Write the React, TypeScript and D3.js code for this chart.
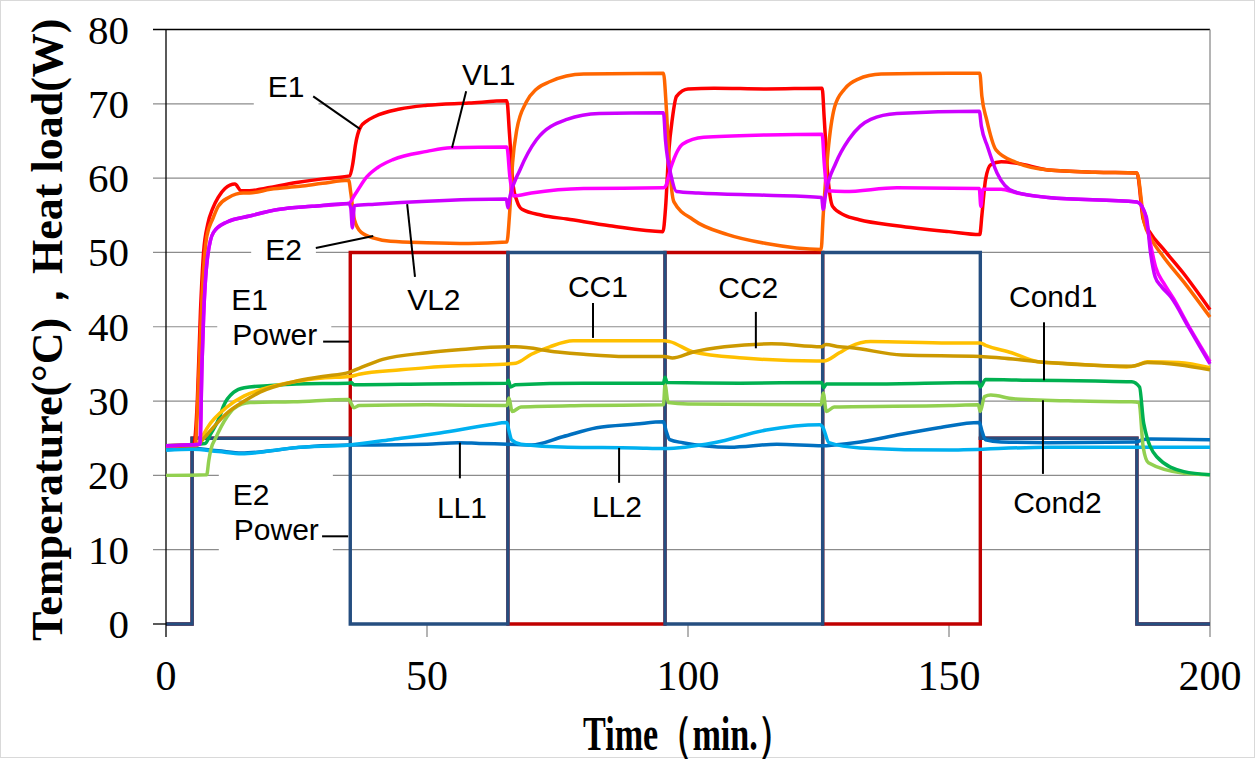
import React, { useRef, useEffect } from "react";
import * as d3 from "d3";

type Pt = [number, number];

// [time (min), value] pairs
const e1Power: Pt[] = [[0, 0], [5, 0], [5, 25], [35.3, 25], [35.3, 50], [65.5, 50], [65.5, 0], [95.6, 0], [95.6, 50], [125.8, 50], [125.8, 0], [156, 0], [156, 25], [186, 25], [186, 0], [200, 0]];
const e2Power: Pt[] = [[0, 0], [5, 0], [5, 25], [35.3, 25], [35.3, 0], [65.5, 0], [65.5, 50], [95.6, 50], [95.6, 0], [125.8, 0], [125.8, 50], [156, 50], [156, 25], [186, 25], [186, 0], [200, 0]];

const e1Temp: Pt[] = [[0, 24], [5.3, 24.1], [6, 30], [6.6, 42], [7.2, 50], [8, 53.8], [9, 56], [10, 57.4], [11.3, 58.6], [13.2, 59.2], [14.4, 58.3], [16, 58.3], [18, 58.5], [25, 59.4], [30, 59.9], [35.2, 60.3], [35.8, 62], [36.3, 64.5], [37.2, 66.8], [38.5, 67.7], [40, 68.3], [44.8, 69.3], [50, 69.8], [58, 70.1], [65.3, 70.4], [65.8, 66], [66.5, 59], [67.2, 57], [68.2, 55.8], [72, 55], [76.8, 54.5], [85, 53.6], [95.2, 52.8], [95.7, 56], [96.3, 63.4], [97, 68], [97.8, 71], [100, 72], [105, 72.1], [115, 72], [125.7, 72.1], [126.1, 68], [126.7, 61.1], [127.7, 56.2], [130, 55], [132.8, 54.4], [140, 53.6], [150, 52.8], [155.9, 52.4], [156.3, 55], [157, 59.8], [158, 61.8], [160, 62.2], [163, 62], [169, 61.1], [178, 60.8], [186, 60.7], [187.2, 54.5], [188.5, 52.7], [191, 50.5], [194.8, 47.3], [200, 42.3]];
const e2Temp: Pt[] = [[0, 24], [5.6, 24.1], [6.2, 32], [6.9, 44], [7.8, 52.1], [9, 54.6], [10, 56.2], [12, 57.4], [14.8, 58], [16, 58], [20, 58.5], [25.7, 58.9], [30, 59.3], [35, 59.7], [35.4, 58], [36.1, 54.4], [37.4, 52.7], [40, 51.9], [43, 51.5], [50, 51.3], [58, 51.2], [65.3, 51.4], [65.8, 55], [66.4, 62.1], [67.2, 66.5], [69, 70.2], [71, 72], [73.6, 73], [80, 74], [95.3, 74.1], [95.8, 70], [96.3, 63.4], [97.3, 56.8], [101, 54.4], [107.6, 52.4], [115, 51.2], [125.5, 50.4], [125.9, 55], [126.8, 63.4], [128.1, 69.6], [130, 72], [132.5, 73.3], [137, 74], [150, 74.1], [155.9, 74.1], [156.3, 71], [157.2, 67.9], [159, 63.8], [162.9, 62.1], [169, 61.1], [178, 60.8], [186, 60.7], [187.4, 54], [188.6, 52], [191, 49.5], [195, 46], [200, 41.3]];
const vl1Temp: Pt[] = [[0, 24], [6.5, 24.2], [6.9, 35], [7.2, 41.3], [7.9, 49], [9.1, 52.7], [11.7, 54.1], [16, 54.9], [21.8, 55.8], [28, 56.2], [35, 56.6], [36.2, 57.8], [38.5, 60.2], [40.5, 61.4], [43.5, 62.5], [50, 63.6], [54.5, 64.1], [65.3, 64.2], [65.9, 60], [66.6, 57.6], [70, 58], [80, 58.6], [95.3, 58.7], [95.7, 58.9], [96.8, 61.6], [99, 64.6], [103, 65.5], [115, 65.8], [125.7, 65.9], [126.1, 62], [126.7, 58.3], [130, 58.2], [140, 58.7], [155.8, 58.6], [156.1, 56.2], [156.5, 58.5], [160, 58.5], [163, 58], [169, 57.4], [186, 56.8], [187.5, 55.3], [188.5, 51.5], [189.6, 48], [191.2, 45.8], [193, 43.8], [196, 40], [200, 35.3]];
const vl2Temp: Pt[] = [[0, 24], [6.5, 24.2], [6.9, 35], [7.2, 41.3], [7.9, 49], [9.1, 52.7], [11.7, 54.1], [16, 54.9], [21.8, 55.8], [28, 56.2], [35, 56.6], [35.4, 56], [35.7, 53.3], [36.1, 56.3], [40, 56.5], [50, 56.9], [65.2, 57.2], [65.5, 56], [65.9, 57.5], [67.8, 61.1], [71, 65.2], [76.8, 67.9], [83, 68.7], [95.3, 68.8], [95.7, 65], [96.8, 60.2], [97.8, 58.2], [102, 58], [115, 57.7], [125.6, 57.4], [125.9, 55.8], [126.4, 58], [128.3, 62], [130.8, 65.2], [133, 67], [135, 67.9], [140, 68.7], [155.8, 69], [156.2, 67], [157.4, 64.2], [159.2, 60.7], [162.4, 58.2], [169, 57.4], [186, 56.8], [187.8, 54.8], [188.6, 50], [189.5, 46.7], [190.7, 45.4], [192.5, 44], [196, 39.8], [200, 35]];
const cc1Temp: Pt[] = [[0, 24], [5.8, 24.1], [7, 25.3], [8, 26.5], [11.7, 29.2], [15, 30.7], [18, 31.5], [24.5, 32.6], [30, 33.1], [35.2, 33.3], [37, 33.6], [45, 34.2], [50, 34.5], [58, 34.8], [65.5, 35], [67, 35.1], [70, 36.3], [73.5, 37.3], [78, 38.1], [85, 38.1], [95.5, 38.1], [96.5, 38], [101, 36.6], [110.6, 35.8], [124.6, 35.4], [126, 35.4], [129, 36.5], [131, 37.3], [135, 38], [150, 37.8], [156, 37.8], [157, 37.5], [162, 36.5], [167, 35.3], [174, 35], [184, 34.6], [186, 34.8], [188, 35.3], [194, 35.2], [200, 34.5]];
const cc2Temp: Pt[] = [[0, 24], [5.8, 24], [7, 24.8], [8, 25.6], [11.7, 28.4], [15, 30], [18, 31.2], [24.5, 32.6], [30, 33.3], [35.2, 33.9], [37, 34.4], [41.5, 35.6], [50, 36.5], [56, 36.9], [65.5, 37.3], [67, 37.3], [75, 36.6], [80, 36.3], [88, 36], [95.5, 36], [97, 35.8], [101, 36.6], [107, 37.3], [116, 37.7], [125.6, 37.3], [126.4, 37.6], [129, 37.3], [131, 37.2], [141, 36.2], [156, 36], [160, 35.8], [169, 35.2], [185, 34.7], [188, 35.2], [194, 34.9], [200, 34.2]];
const cond1Temp: Pt[] = [[0, 24], [7.5, 24.3], [8.5, 25.5], [10.3, 27.9], [11, 29.3], [13, 31.2], [15, 31.8], [20, 32.1], [25, 32.3], [35, 32.4], [35.5, 32.5], [36, 32.2], [50, 32.3], [65.3, 32.4], [65.6, 32.8], [66, 31.9], [67, 32.2], [80, 32.4], [95.3, 32.4], [95.6, 33.2], [96, 32.5], [110, 32.4], [125.6, 32.5], [126, 31.8], [126.5, 32.3], [135, 32.3], [155.6, 32.5], [156, 31.9], [157, 32.9], [165, 32.8], [178, 32.7], [185, 32.6], [186.5, 31.9], [187.3, 27], [189.8, 22.5], [195, 20.5], [200, 20.1]];
const cond2Temp: Pt[] = [[0, 20], [7.8, 20.1], [8.2, 22], [8.6, 23.5], [9.5, 25], [11.7, 27.9], [13, 29], [16.1, 29.8], [24.4, 29.9], [35, 30.2], [35.6, 29.5], [36, 29.1], [37, 29.4], [50, 29.5], [65.3, 29.4], [65.7, 30.4], [66.3, 28.6], [68, 29.2], [80, 29.4], [95.3, 29.5], [95.6, 32.2], [96.2, 29.8], [100, 29.6], [125.5, 29.5], [125.9, 31.1], [126.5, 28.6], [128, 29.2], [150, 29.4], [155.6, 29.5], [156, 28.6], [156.8, 30.6], [158, 30.8], [162.4, 30.3], [175, 30], [185, 29.9], [186.4, 29.8], [187.2, 23.8], [188.2, 21.7], [195, 20.3], [200, 20.1]];
const ll1Temp: Pt[] = [[0, 23.4], [5, 23.6], [10, 23.3], [14.5, 23], [20, 23.3], [24.4, 23.7], [35.2, 24.1], [40, 24.1], [50, 24.2], [56, 24.4], [60, 24.3], [65.5, 24.2], [70, 24.1], [76, 25.2], [82.5, 26.4], [90, 26.9], [95.3, 27.2], [95.8, 26], [96.5, 24.8], [99, 24.4], [108, 23.8], [117, 24.2], [125.8, 24], [128, 24.1], [133, 24.5], [140.6, 25.5], [148, 26.4], [155.8, 27.1], [156.3, 26], [157, 24.8], [160, 24.5], [169, 24.4], [186, 24.5], [187, 24.8], [188.5, 24.9], [200, 24.8]];
const ll2Temp: Pt[] = [[0, 23.4], [5, 23.5], [10, 23.2], [14.5, 22.9], [20, 23.3], [24.4, 23.7], [35.2, 24.1], [43, 24.8], [52.5, 25.7], [62, 26.8], [65.3, 27.1], [65.7, 26], [66.2, 24.8], [68, 24.2], [77, 23.8], [90, 23.7], [95.5, 23.6], [105, 24.4], [115, 26.1], [125.3, 26.8], [125.8, 26.5], [127, 24.4], [133, 23.7], [150, 23.4], [169, 23.8], [200, 23.8]];

const yTicks = [0, 10, 20, 30, 40, 50, 60, 70, 80];
const xTicks = [0, 50, 100, 150, 200];

const W = 1255;
const H = 761;
const SERIF = "'Liberation Serif', 'Times New Roman', serif";
const SANS = "'Liberation Sans', Arial, sans-serif";

const App: React.FC = () => {
  const svgRef = useRef<SVGSVGElement | null>(null);

  useEffect(() => {
    const svg = d3.select(svgRef.current);
    svg.selectAll("*").remove();

    const x = d3.scaleLinear().domain([0, 200]).range([166, 1210]);
    const y = d3.scaleLinear().domain([0, 80]).range([624, 29.5]);
    const [x0, x1] = x.range();
    const [y0, y1] = y.range();

    svg.append("rect").attr("width", W).attr("height", H).attr("fill", "#fff");
    svg.append("rect")
      .attr("x", 0.5).attr("y", 0.5).attr("width", W - 1).attr("height", H - 4)
      .attr("fill", "none").attr("stroke", "#d9d9d9");

    // gridlines
    yTicks.filter((v) => v > 0 && v < 80).forEach((v) => {
      svg.append("line")
        .attr("x1", x0 - 13).attr("x2", x1)
        .attr("y1", y(v)).attr("y2", y(v))
        .attr("stroke", "#8c8c8c").attr("stroke-width", 1.2);
    });
    // frame
    svg.append("line").attr("x1", x0 - 13).attr("x2", x1).attr("y1", y1).attr("y2", y1).attr("stroke", "#000").attr("stroke-width", 1.3);
    svg.append("line").attr("x1", x1).attr("x2", x1).attr("y1", y1).attr("y2", y0 + 13).attr("stroke", "#8c8c8c").attr("stroke-width", 1.3);
    xTicks.filter((t) => t > 0 && t < 200).forEach((t) => {
      svg.append("line").attr("x1", x(t)).attr("x2", x(t)).attr("y1", y0).attr("y2", y0 + 13).attr("stroke", "#8c8c8c").attr("stroke-width", 1.3);
    });

    // white boxes behind the labels (they hide the gridlines)
    const boxes = svg.append("g");

    // heater power lines
    const powerLine = d3.line<Pt>().x((d) => x(d[0])).y((d) => y(d[1]));
    [
      { data: e1Power, color: "#C00000" },
      { data: e2Power, color: "#254E80" },
    ].forEach((s) => {
      svg.append("path").datum(s.data)
        .attr("fill", "none").attr("stroke", s.color).attr("stroke-width", 3.4)
        .attr("stroke-linejoin", "miter").attr("d", powerLine);
    });

    svg.append("line").attr("x1", x0).attr("x2", x0).attr("y1", y1).attr("y2", y0 + 13).attr("stroke", "#000").attr("stroke-width", 1.3);
    svg.append("line").attr("x1", x0 - 13).attr("x2", x0).attr("y1", y0).attr("y2", y0).attr("stroke", "#000").attr("stroke-width", 1.3);

    const tempLine = d3.line<Pt>().x((d) => x(d[0])).y((d) => y(d[1])).curve(d3.curveMonotoneX);
    const temps = [
      { data: ll1Temp, color: "#0070C0" },
      { data: ll2Temp, color: "#00B0F0" },
      { data: cond2Temp, color: "#92D050" },
      { data: cond1Temp, color: "#00B050" },
      { data: cc1Temp, color: "#FFC000" },
      { data: cc2Temp, color: "#CC9900" },
      { data: e1Temp, color: "#FF0000" },
      { data: e2Temp, color: "#FF6600" },
      { data: vl1Temp, color: "#FF00FF" },
      { data: vl2Temp, color: "#CC00FF" },
    ];
    temps.forEach((s) => {
      svg.append("path").datum(s.data)
        .attr("fill", "none").attr("stroke", s.color).attr("stroke-width", 3.5)
        .attr("stroke-linejoin", "round").attr("d", tempLine);
    });

    // annotations: text anchor (t, v) and leader line (t1, v1) -> (t2, v2), in data units
    const notes = [
      { lines: ["E1"], t: 19.5, v: 70.9, leader: [28.2, 71.0, 37.2, 66.6] },
      { lines: ["VL1"], t: 56.7, v: 72.5, leader: [57.5, 71.7, 54.8, 64.1] },
      { lines: ["E2"], t: 19.0, v: 49.0, leader: [28.7, 50.6, 39.7, 52.2] },
      { lines: ["VL2"], t: 46.2, v: 42.3, leader: [47.7, 46.7, 46.2, 56.5] },
      { lines: ["E1", "Power"], t: 12.5, v: 42.3, leader: [30.1, 38.0, 35.1, 38.0] },
      { lines: ["E2", "Power"], t: 12.8, v: 16.0, leader: [29.9, 11.8, 34.9, 11.8] },
      { lines: ["CC1"], t: 77.0, v: 44.0, leader: [81.8, 43.2, 81.8, 38.5] },
      { lines: ["CC2"], t: 105.8, v: 43.9, leader: [113.0, 42.0, 113.0, 37.1] },
      { lines: ["Cond1"], t: 161.5, v: 42.7, leader: [168.2, 40.6, 168.2, 32.8] },
      { lines: ["Cond2"], t: 162.3, v: 14.9, leader: [168.0, 30.1, 168.0, 20.2] },
      { lines: ["LL1"], t: 51.9, v: 14.3, leader: [56.3, 24.4, 56.3, 19.6] },
      { lines: ["LL2"], t: 81.6, v: 14.4, leader: [86.8, 23.7, 86.8, 19.0] },
    ];
    const noteG = svg.append("g");
    notes.forEach((n) => {
      const text = noteG.append("text")
        .attr("font-family", SANS).attr("font-size", 30).attr("fill", "#000");
      n.lines.forEach((l, i) => {
        text.append("tspan").attr("x", x(n.t) + (i > 0 ? 1 : 0)).attr("y", y(n.v) + i * 35).text(l);
      });
      const bb = (text.node() as SVGTextElement).getBBox();
      const padY = n.lines.length > 1 ? 8 : 3;
      boxes.append("rect")
        .attr("x", bb.x - 14).attr("y", bb.y - padY)
        .attr("width", bb.width + 28).attr("height", bb.height + padY * 2)
        .attr("fill", "#fff");
      const [a, b, c, d] = n.leader;
      noteG.append("line")
        .attr("x1", x(a)).attr("y1", y(b)).attr("x2", x(c)).attr("y2", y(d))
        .attr("stroke", "#000").attr("stroke-width", 2);
    });

    // tick labels
    yTicks.forEach((v) => {
      svg.append("text")
        .attr("x", 129).attr("y", y(v) + 14)
        .attr("text-anchor", "end").attr("font-family", SERIF).attr("font-size", 41)
        .text(v);
    });
    xTicks.forEach((t) => {
      svg.append("text")
        .attr("x", x(t)).attr("y", 690)
        .attr("text-anchor", "middle").attr("font-family", SERIF).attr("font-size", 42)
        .text(t);
    });

    // axis titles
    svg.append("text")
      .attr("transform", `translate(62, ${(y0 + y1) / 2 + 3}) rotate(-90)`)
      .attr("text-anchor", "middle").attr("font-family", SERIF)
      .attr("font-weight", "bold").attr("font-size", 44)
      .text("Temperature(°C)，Heat load(W)");
    svg.append("text")
      .attr("x", 583).attr("y", 750)
      .attr("textLength", 209).attr("lengthAdjust", "spacingAndGlyphs")
      .attr("font-family", SERIF).attr("font-weight", "bold").attr("font-size", 48)
      .text("Time（min.）");
  }, []);

  return (
    <svg
      ref={svgRef}
      width={W}
      height={H}
      style={{ position: "absolute", left: 0, top: 0 }}
    ></svg>
  );
};

export default App;
